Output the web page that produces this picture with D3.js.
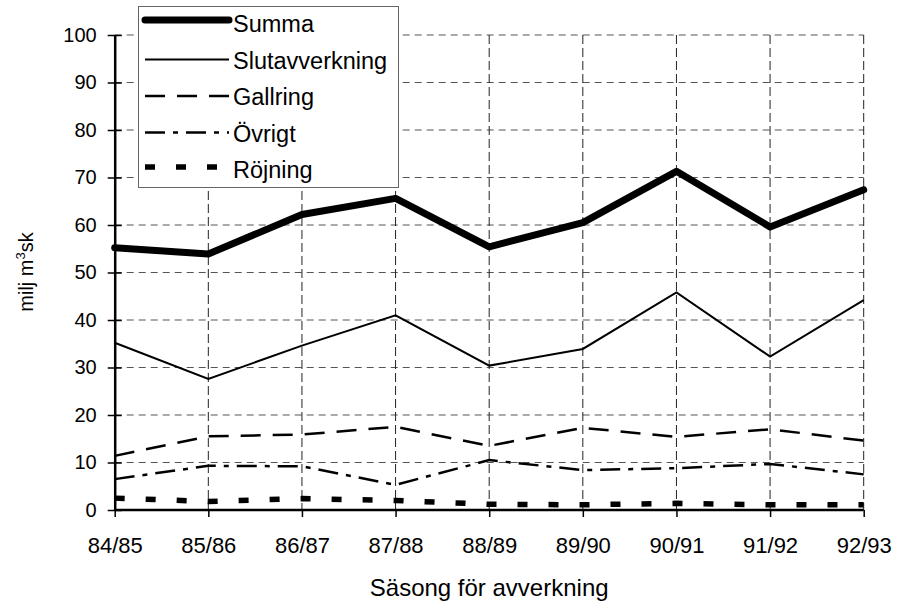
<!DOCTYPE html>
<html>
<head>
<meta charset="utf-8">
<script src="https://cdn.jsdelivr.net/npm/d3@7/dist/d3.min.js"></script>
<style>
  html, body { margin: 0; padding: 0; background: #fff; }
  text { font-family: "Liberation Sans", Arial, sans-serif; fill: #000; }
</style>
</head>
<body>
<svg id="chart" width="898" height="603"></svg>
<script>
// ---- Data ----
const seasons = ["84/85","85/86","86/87","87/88","88/89","89/90","90/91","91/92","92/93"];
const summa          = [55.2, 53.9, 62.2, 65.6, 55.4, 60.5, 71.3, 59.6, 67.4];
const slutavverkning = [35.2, 27.6, 34.6, 41.0, 30.4, 33.9, 45.8, 32.3, 44.2];
const gallring       = [11.4, 15.5, 15.9, 17.5, 13.5, 17.3, 15.4, 17.0, 14.6];
const ovrigt         = [6.5, 9.3, 9.2, 5.3, 10.5, 8.4, 8.8, 9.7, 7.5];
const rojning        = [2.5, 1.8, 2.4, 2.0, 1.2, 1.1, 1.4, 1.1, 1.1];
const seriesNames    = ["Summa","Slutavverkning","Gallring","Övrigt","Röjning"];
const yTicks         = [0,10,20,30,40,50,60,70,80,90,100];
const xTitle = "Säsong för avverkning";

// ---- Layout ----
const svg = d3.select("#chart");
const x0 = 114.7, x1 = 863.7, yBottom = 510, yTop = 35;

const x = d3.scalePoint().domain(seasons).range([x0, x1]);
const y = d3.scaleLinear().domain([0, 100]).range([yBottom, yTop]);

const styles = [
  { w: 7, dash: null, cap: "round" },
  { w: 2, dash: null, cap: "butt" },
  { w: 2.5, dash: "20,12", cap: "butt" },
  { w: 2.5, dash: "20,8,5,8", cap: "butt" },
  { w: 5.5, dash: "10,21", cap: "butt" }
];
const allSeries = [summa, slutavverkning, gallring, ovrigt, rojning];

// gridlines horizontal
svg.append("g").selectAll("line").data(yTicks.filter(d => d > 0)).join("line")
  .attr("x1", x0).attr("x2", x1)
  .attr("y1", d => y(d)).attr("y2", d => y(d))
  .attr("stroke", "#555").attr("stroke-width", 1).attr("stroke-dasharray", "7,5");

// gridlines vertical
svg.append("g").selectAll("line").data(seasons.slice(1)).join("line")
  .attr("x1", d => x(d)).attr("x2", d => x(d))
  .attr("y1", yTop).attr("y2", yBottom)
  .attr("stroke", "#222").attr("stroke-width", 1).attr("stroke-dasharray", "9,4");

// series lines
const line = d3.line().x((d, i) => x(seasons[i])).y(d => y(d));
allSeries.forEach((s, k) => {
  svg.append("path").datum(s)
    .attr("d", line)
    .attr("fill", "none")
    .attr("stroke", "#000")
    .attr("stroke-width", styles[k].w)
    .attr("stroke-linejoin", k === 0 ? "round" : "miter")
    .attr("stroke-linecap", styles[k].cap)
    .attr("stroke-dasharray", styles[k].dash);
});

// y axis
const yAxis = svg.append("g").attr("transform", `translate(${x0},0)`)
  .call(d3.axisLeft(y).tickValues(yTicks).tickSizeInner(7).tickSizeOuter(0).tickPadding(11));
yAxis.select(".domain").attr("stroke", "#000").attr("stroke-width", 2.5);
yAxis.selectAll(".tick line").attr("x2", 7).attr("x1", -7).attr("stroke-width", 1.5);
yAxis.selectAll(".tick text").style("font-size", "20px").attr("font-family", null);

// x axis
const xAxis = svg.append("g").attr("transform", `translate(0,${yBottom})`)
  .call(d3.axisBottom(x).tickSizeInner(7).tickSizeOuter(0).tickPadding(20));
xAxis.select(".domain").attr("stroke", "#000").attr("stroke-width", 2.5).attr("d", `M${x0},0H${x1}`);
xAxis.selectAll(".tick line").attr("stroke-width", 1.5);
xAxis.selectAll(".tick text").style("font-size", "22px").attr("font-family", null);

// titles
svg.append("text").attr("x", (x0 + x1) / 2).attr("y", 596)
  .attr("text-anchor", "middle").style("font-size", "24px").text(xTitle);

const yt = svg.append("text")
  .attr("transform", "translate(33,272) rotate(-90)")
  .attr("text-anchor", "middle").style("font-size", "20px");
yt.append("tspan").text("milj m");
yt.append("tspan").attr("dy", -8).style("font-size", "13px").text("3");
yt.append("tspan").attr("dy", 8).text("sk");

// legend
const lg = svg.append("g");
lg.append("rect").attr("x", 138.5).attr("y", 6.5).attr("width", 260).attr("height", 181)
  .attr("fill", "#fff").attr("stroke", "#666").attr("stroke-width", 1);
seriesNames.forEach((name, k) => {
  const ry = 24 + k * 36.5;
  const ly = k === 0 ? ry - 4 : (k === 4 ? ry - 3 : ry - 1);
  lg.append("line").attr("x1", 145).attr("x2", 229).attr("y1", ly).attr("y2", ly)
    .attr("stroke", "#000").attr("stroke-width", styles[k].w)
    .attr("stroke-linecap", styles[k].cap)
    .attr("stroke-dasharray", styles[k].dash);
  lg.append("text").attr("x", 233).attr("y", ry).attr("dy", "0.36em")
    .style("font-size", "23.5px").text(name);
});
</script>
</body>
</html>
